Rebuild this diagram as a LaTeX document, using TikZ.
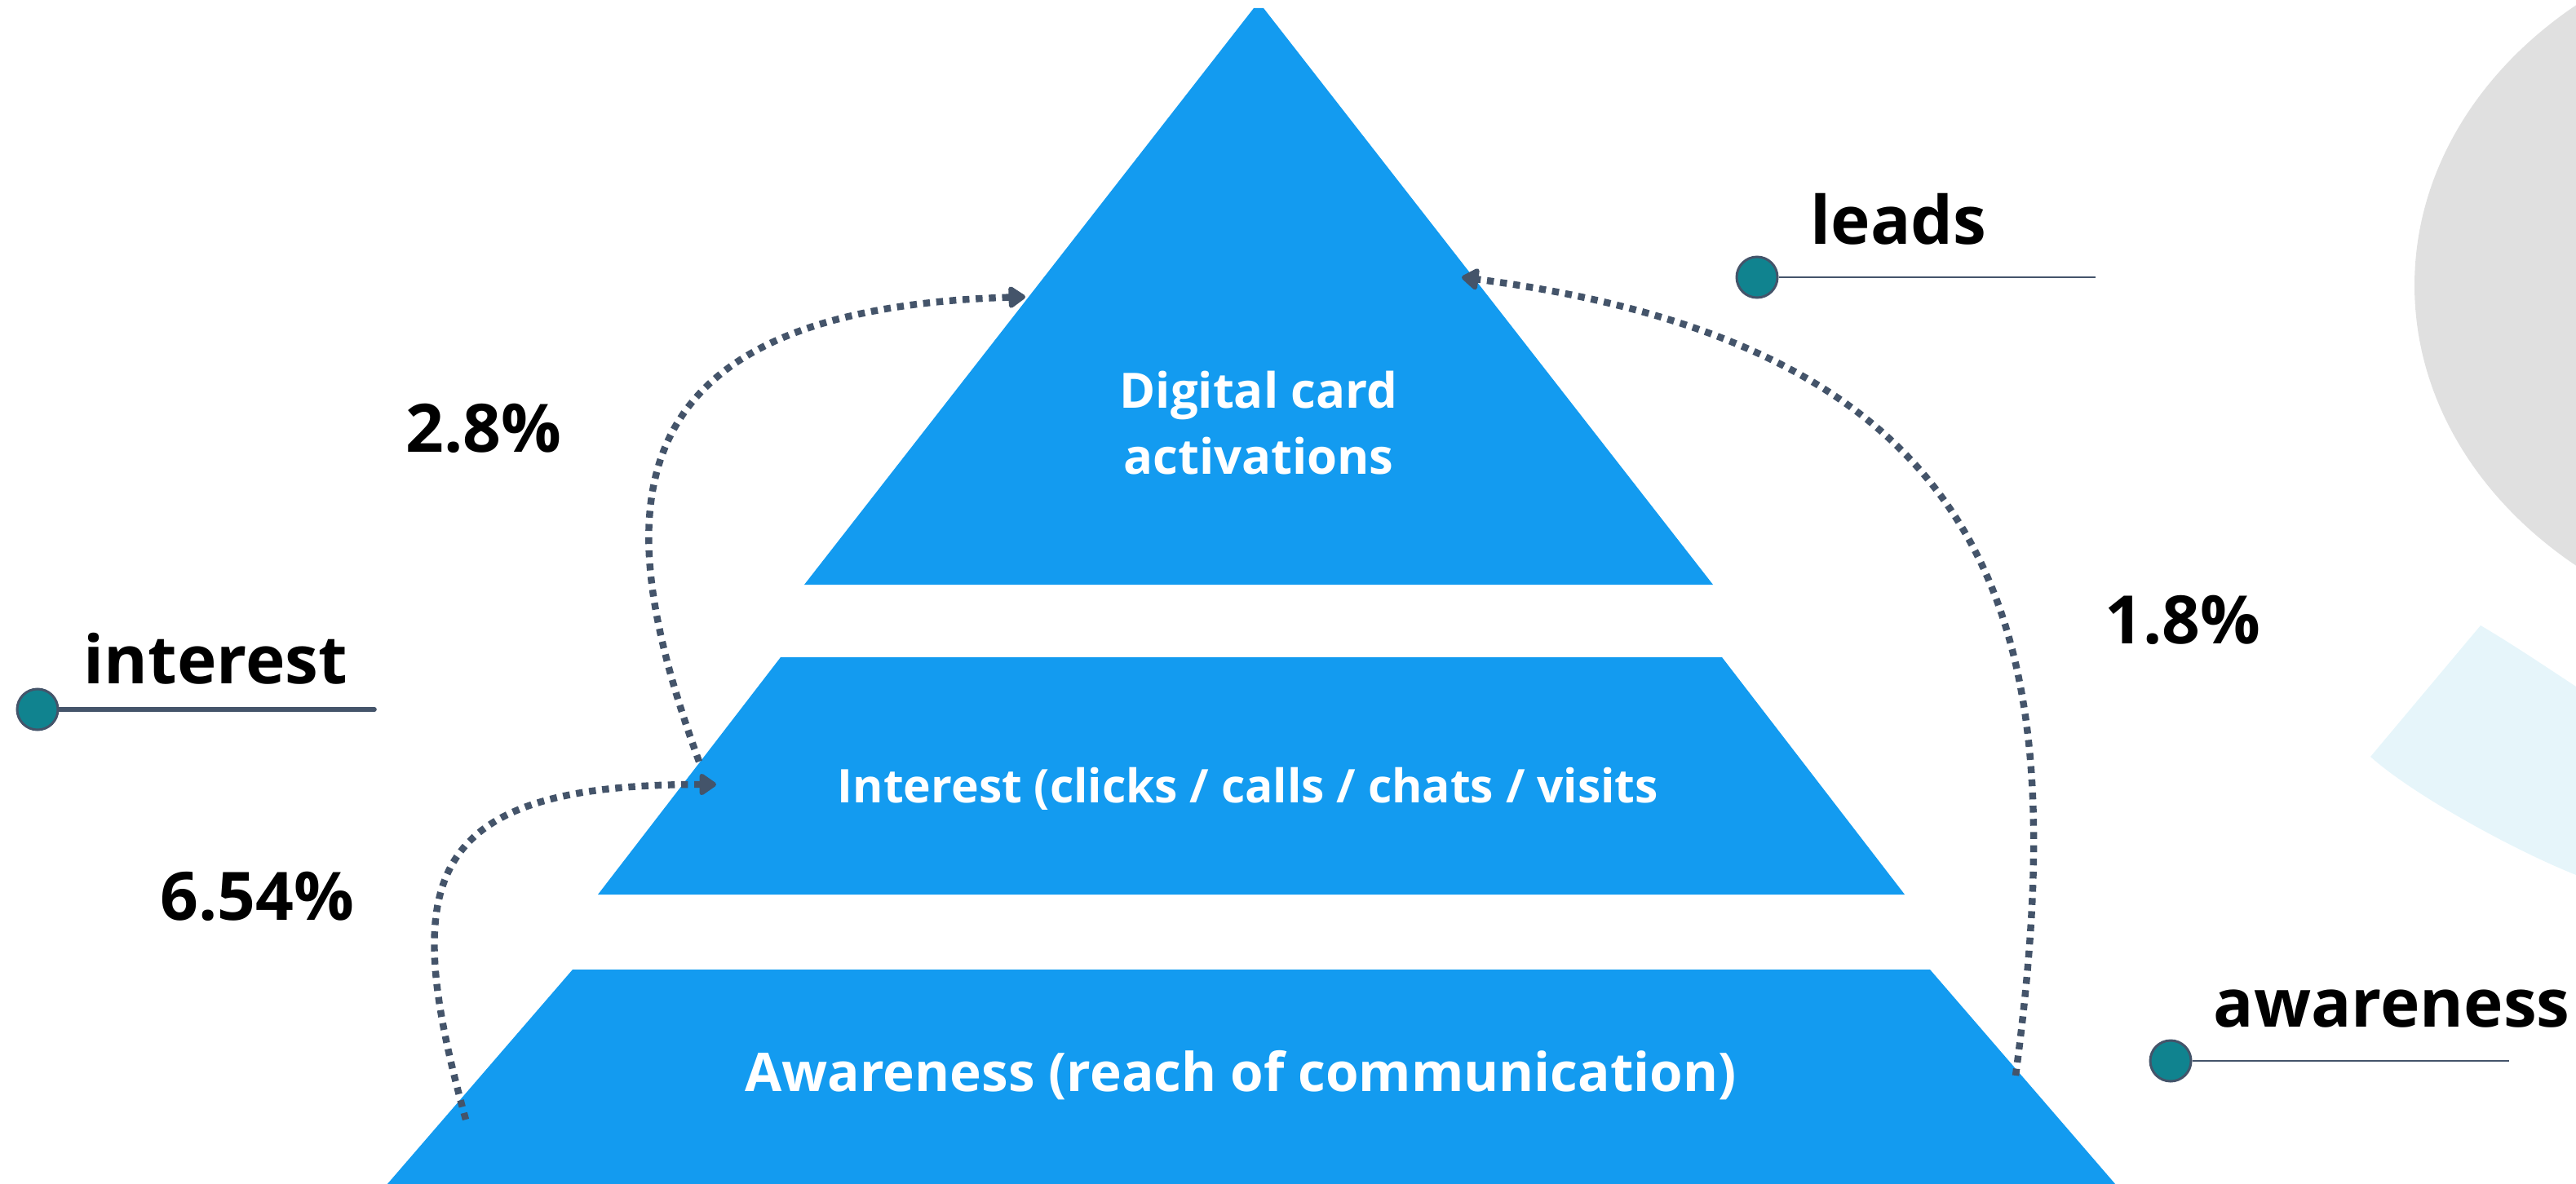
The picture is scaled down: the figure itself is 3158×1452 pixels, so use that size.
\documentclass[tikz,border=0pt]{standalone}
\usepackage{fontspec}
\setmainfont{Open Sans}
\usetikzlibrary{arrows.meta}
\definecolor{pyr}{HTML}{139BF0}
\definecolor{slate}{HTML}{44546A}
\definecolor{tealc}{HTML}{10838F}
\definecolor{lgray}{HTML}{E0E0E0}
\definecolor{lcyan}{HTML}{E6F5FA}
\begin{document}
\begin{tikzpicture}[x=0.01cm,y=-0.01cm,
  layer/.style={fill=pyr},
  lvltext/.style={text=white,anchor=base,inner sep=0pt},
  tag/.style={font=\fontsize{23.3}{28}\selectfont\bfseries,anchor=base west,inner sep=0pt},
  marker/.style={circle,fill=tealc,draw=slate,line width=0.85pt,minimum size=0.5cm,inner sep=0pt},
  flow/.style={draw=slate,line width=2.4pt,dash pattern=on 2.4pt off 2.2pt,
    -{Triangle[length=6.5pt,width=8.5pt,round]}}]
\useasboundingbox (0,0) rectangle (3158,1452);
\clip (0,0) rectangle (3158,1452);
% background shapes
\fill[lgray] (3500,350) ellipse [x radius=540, y radius=444];
\fill[lcyan] (3041,767) .. controls (3080,790) and (3120,817) .. (3158,842)
  -- (3200,842) -- (3200,1090) -- (3158,1073)
  .. controls (3078,1041) and (2956,973) .. (2906,928) -- cycle;
% pyramid
\fill[layer] (1537,10) -- (1549,10) -- (2100,717) -- (986,717) -- cycle;
\fill[layer] (957,806) -- (2111,806) -- (2335,1097) -- (733,1097) -- cycle;
\fill[layer] (702,1189) -- (2366,1189) -- (2600,1460) -- (468,1460) -- cycle;
\node[lvltext,font=\fontsize{17}{20}\selectfont\bfseries] (top1) at (1543,500) {Digital card};
\node[lvltext,font=\fontsize{17}{20}\selectfont\bfseries] (top2) at (1543,581) {activations};
\node[lvltext,font=\fontsize{16.2}{19}\selectfont\bfseries] (mid) at (1530,984) {Interest (clicks / calls / chats / visits};
\node[lvltext,font=\fontsize{18.65}{22}\selectfont\bfseries] (bot) at (1521,1338) {Awareness (reach of communication)};
% labels
\node[tag] (leads) at (2219,300) {leads};
\node[tag] (interest) at (102,838) {interest};
\node[tag] (awareness) at (2713,1259) {awareness};
\node[tag] (p1) at (497,554) {2.8\%};
\node[tag] (p2) at (196,1128) {6.54\%};
\node[tag] (p3) at (2580,789) {1.8\%};
% markers
\node[marker] (mi) at (46,870) {};
\coordinate (miend) at (459,870);
\draw[slate,line width=1.6pt,line cap=round] (mi.east) -- (miend);
\node[marker] (ml) at (2154,340) {};
\coordinate (mlend) at (2569,340);
\draw[slate,line width=0.6pt] (ml.east) -- (mlend);
\node[marker] (ma) at (2661,1301) {};
\coordinate (maend) at (3076,1301);
\draw[slate,line width=0.6pt] (ma.east) -- (maend);
% flows
\coordinate (a1s) at (571,1373); \coordinate (a1e) at (878,962);
\draw[flow] (a1s) .. controls (490,1080) and (515,962) .. (a1e);
\coordinate (a2s) at (857,934); \coordinate (a2e) at (1257,364);
\draw[flow] (a2s) .. controls (750,640) and (730,380) .. (a2e);
\coordinate (a3s) at (2471,1319); \coordinate (a3e) at (1792,340);
\draw[flow] (a3s) .. controls (2540,800) and (2480,430) .. (a3e);
\end{tikzpicture}
\end{document}
